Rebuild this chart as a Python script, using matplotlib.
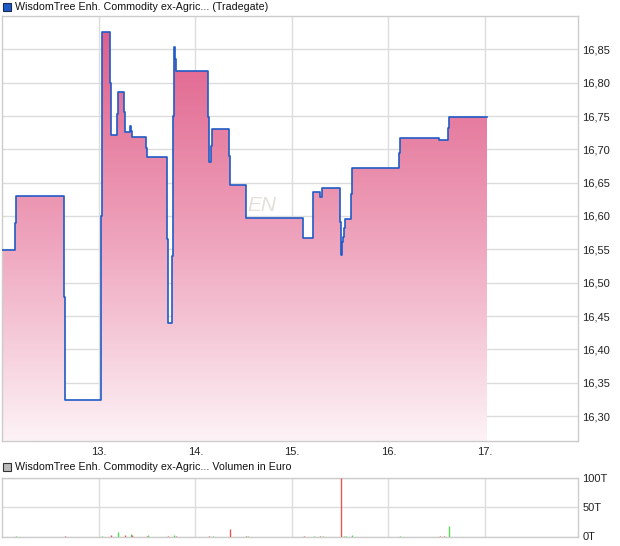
import numpy as np
import matplotlib
matplotlib.use("Agg")
import matplotlib.pyplot as plt
from matplotlib.colors import LinearSegmentedColormap
from matplotlib.patches import Rectangle

plt.rcParams['font.family'] = ['Liberation Sans', 'DejaVu Sans']

# ---- data (time in day-of-month, fractional) ----
price_t = [12.000, 12.130, 12.140, 12.637, 12.648, 13.021, 13.031, 13.114, 13.124,
           13.187, 13.197, 13.259, 13.269, 13.321, 13.332, 13.342, 13.487, 13.497,
           13.705, 13.715, 13.756, 13.767, 13.777, 13.788, 13.798, 14.130, 14.140,
           14.161, 14.171, 14.347, 14.358, 14.523, 15.114, 15.218, 15.290, 15.311,
           15.497, 15.508, 15.518, 15.528, 15.539, 15.549, 15.611, 15.622, 16.109,
           16.119, 16.523, 16.617, 16.627, 17.021]
price_v = [16.549, 16.589, 16.630, 16.478, 16.324, 16.600, 16.876, 16.800, 16.721,
           16.753, 16.786, 16.756, 16.726, 16.735, 16.727, 16.718, 16.702, 16.688,
           16.565, 16.440, 16.540, 16.750, 16.853, 16.835, 16.817, 16.748, 16.681,
           16.705, 16.730, 16.690, 16.646, 16.597, 16.567, 16.636, 16.628, 16.642,
           16.591, 16.541, 16.561, 16.568, 16.582, 16.595, 16.633, 16.672, 16.694,
           16.717, 16.714, 16.732, 16.748, 16.748]

vol_t = [12.140, 12.648, 13.031, 13.124, 13.197, 13.269, 13.332, 13.342, 13.497,
         13.508, 13.715, 13.777, 13.798, 14.140, 14.181, 14.358, 14.523, 14.544,
         15.124, 15.228, 15.290, 15.321, 15.508, 15.539, 15.560, 15.622, 16.119,
         16.534, 16.575, 16.627]
vol_v = [0.8, 0.8, 0.8, 2.0, 8.0, 3.0, 4.5, 2.0, 1.0, 2.0, 0.8, 2.0, 0.8, 0.8, 0.8,
         13.0, 0.8, 0.8, 0.8, 0.8, 0.8, 1.5, 100.0, 0.8, 0.8, 2.0, 0.8, 0.8, 0.8, 18.0]
vol_up = [1, 0, 1, 0, 1, 0, 1, 0, 0, 1, 0, 1, 0, 0, 1, 0, 0, 1, 0, 1, 0, 1, 0, 1, 1,
          1, 1, 0, 0, 1]

x_ticks = [13, 14, 15, 16, 17]
x_labels = ["13.", "14.", "15.", "16.", "17."]
y_ticks = [16.30, 16.35, 16.40, 16.45, 16.50, 16.55, 16.60, 16.65, 16.70, 16.75, 16.80, 16.85]
vol_ticks = [0, 50, 100]
vol_labels = ["0T", "50T", "100T"]

title_main = "WisdomTree Enh. Commodity ex-Agric... (Tradegate)"
title_vol = "WisdomTree Enh. Commodity ex-Agric... Volumen in Euro"

W, H = 620, 546
fig = plt.figure(figsize=(W / 100, H / 100), dpi=100)

def axrect(l, t, r, b):
    return [l / W, 1 - b / H, (r - l) / W, (b - t) / H]

xlim = (11.995, 17.965)
ylim = (16.2625, 16.900)
grid_c = '#dcdcdc'
spine_c = '#cccccc'

ax = fig.add_axes(axrect(2, 16, 578, 441))
ax.set_xlim(*xlim)
ax.set_ylim(*ylim)

# gradient fill clipped to step area
poly = ax.fill_between(price_t, price_v, ylim[0], step='post', color='none', lw=0, zorder=2)
cmap = LinearSegmentedColormap.from_list('g', ['#fdf3f6', '#eea2bb', '#e05f8a'])
grad = np.linspace(0, 1, 256).reshape(-1, 1)
im = ax.imshow(grad, cmap=cmap, origin='lower', aspect='auto',
               extent=[xlim[0], xlim[1], ylim[0], 16.88], zorder=2)
path = poly.get_paths()[0]
im.set_clip_path(path, transform=ax.transData)

ax.plot(price_t, price_v, drawstyle='steps-post', color='#1f5bc6', lw=1.2, zorder=3)

ax.set_xticks(x_ticks)
ax.set_xticklabels(x_labels)
ax.set_yticks(y_ticks)
ax.set_yticklabels([f"{v:.2f}".replace('.', ',') for v in y_ticks])
ax.yaxis.tick_right()
ax.tick_params(axis='both', length=0, labelsize=8, colors='#222222')
ax.tick_params(axis='y', pad=3)
ax.tick_params(axis='x', pad=4)
ax.grid(True, color=grid_c, lw=1)
ax.set_axisbelow(True)
for s in ax.spines.values():
    s.set_color(spine_c)
    s.set_linewidth(1)

ax.text(14.69, 16.616, "EN", fontsize=15, style='italic', color='#e4e0d9',
        ha='center', va='center', zorder=1)

# volume axes
av = fig.add_axes(axrect(2, 478, 578, 536.5))
av.set_xlim(*xlim)
av.set_ylim(0, 100)
colors = ['#55dd55' if u else '#e05a5a' for u in vol_up]
av.vlines(vol_t, 0, vol_v, colors=colors, lw=1.0, zorder=3)
av.set_xticks(x_ticks)
av.set_xticklabels([])
av.set_yticks(vol_ticks)
av.set_yticklabels(vol_labels)
av.yaxis.tick_right()
av.tick_params(axis='both', length=0, labelsize=8, colors='#222222')
av.tick_params(axis='y', pad=3)
av.grid(True, color=grid_c, lw=1)
av.set_axisbelow(True)
for s in av.spines.values():
    s.set_color(spine_c)
    s.set_linewidth(1)

# legends
fig.patches.append(Rectangle((3 / W, 1 - 11 / H), 8 / W, 8 / H, transform=fig.transFigure,
                             facecolor='#1f5bc6', edgecolor='#1a2a55', lw=0.8))
fig.text(15 / W, 1 - 7 / H, title_main, fontsize=7.7, va='center', ha='left', color='#111111')
fig.patches.append(Rectangle((3 / W, 1 - 471 / H), 8 / W, 8 / H, transform=fig.transFigure,
                             facecolor='#bbbbbb', edgecolor='#333333', lw=0.8))
fig.text(15 / W, 1 - 467 / H, title_vol, fontsize=7.7, va='center', ha='left', color='#111111')

fig.savefig('out.png', dpi=100)
